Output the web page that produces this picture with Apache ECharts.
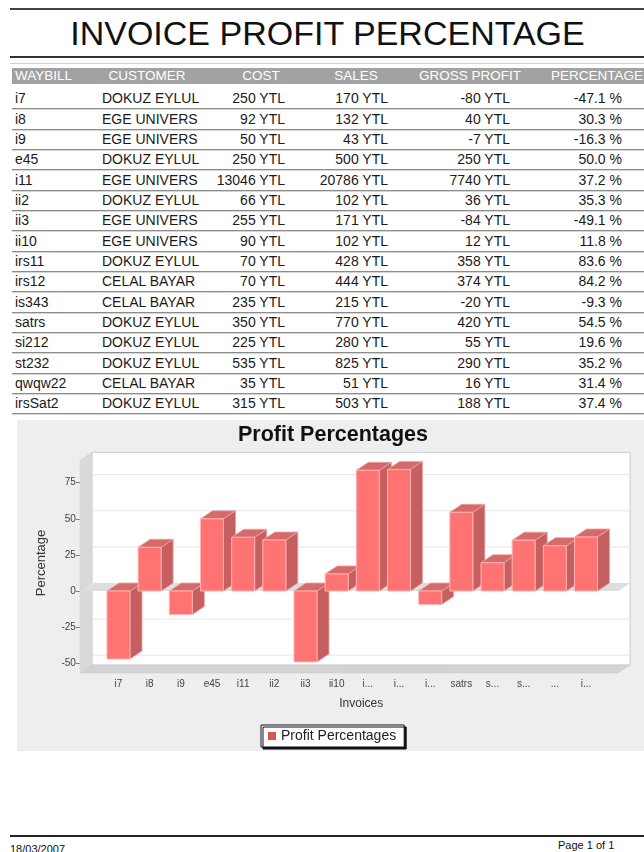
<!DOCTYPE html>
<html>
<head>
<meta charset="utf-8">
<script src="https://cdn.jsdelivr.net/npm/echarts@6/dist/echarts.min.js"></script>
<style>
  html, body { margin: 0; padding: 0; }
  body { width: 644px; height: 852px; overflow: hidden; background: #fff; position: relative;
         font-family: "Liberation Sans", Arial, sans-serif; }
  .abs { position: absolute; white-space: nowrap; }
</style>
</head>
<body>
<div id="page"></div>
<div id="chart" style="position:absolute;left:0;top:418px;width:644px;height:340px;"></div>
<script>
// ---------------- data ----------------
const REPORT_TITLE = 'INVOICE PROFIT PERCENTAGE';
const CHART_TITLE = 'Profit Percentages';
const SERIES_NAME = 'Profit Percentages';
const X_NAME = 'Invoices';
const Y_NAME = 'Percentage';
const headers = ['WAYBILL', 'CUSTOMER', 'COST', 'SALES', 'GROSS PROFIT', 'PERCENTAGE'];
const waybills = ['i7','i8','i9','e45','i11','ii2','ii3','ii10','irs11','irs12','is343','satrs','si212','st232','qwqw22','irsSat2'];
const customers = ['DOKUZ EYLUL','EGE UNIVERS','EGE UNIVERS','DOKUZ EYLUL','EGE UNIVERS','DOKUZ EYLUL','EGE UNIVERS','EGE UNIVERS','DOKUZ EYLUL','CELAL BAYAR','CELAL BAYAR','DOKUZ EYLUL','DOKUZ EYLUL','DOKUZ EYLUL','CELAL BAYAR','DOKUZ EYLUL'];
const cost = [250, 92, 50, 250, 13046, 66, 255, 90, 70, 70, 235, 350, 225, 535, 35, 315];
const sales = [170, 132, 43, 500, 20786, 102, 171, 102, 428, 444, 215, 770, 280, 825, 51, 503];
const grossProfit = [-80, 40, -7, 250, 7740, 36, -84, 12, 358, 374, -20, 420, 55, 290, 16, 188];
const percentage = [-47.1, 30.3, -16.3, 50.0, 37.2, 35.3, -49.1, 11.8, 83.6, 84.2, -9.3, 54.5, 19.6, 35.2, 31.4, 37.4];
const tickLabels = ['i7','i8','i9','e45','i11','ii2','ii3','ii10','i...','i...','i...','satrs','s...','s...','...','i...'];
const yTicks = { min: -50, max: 75, interval: 25 };
const axisRange = { top: 90.5, bottom: -56.8 };   // extent of the 3D plot box
const FOOTER_DATE = '18/03/2007';
const FOOTER_PAGE = 'Page 1 of 1';

// ---------------- report (header, table, footer) ----------------
const page = document.getElementById('page');
function el(text, css) {
  const d = document.createElement('div');
  d.className = 'abs';
  d.style.cssText = css;
  d.textContent = text;
  page.appendChild(d);
  return d;
}
el('', 'left:10px;top:8px;width:634px;height:2px;background:#444;');
el(REPORT_TITLE, 'left:0;width:655px;text-align:center;top:14px;font-size:34px;line-height:38px;color:#111;');
el('', 'left:10px;top:56px;width:634px;height:2px;background:#333;');
el('', 'left:10px;top:63px;width:634px;height:1px;background:#cfcfcf;');

// header bar
el('', 'left:12px;top:68px;width:632px;height:16px;background:#a2a2a2;');
const HDR = 'top:68px;font-size:13.5px;line-height:16px;color:#fff;';
el(headers[0], HDR + 'left:15px;');
const hdrCenters = [null, 147, 261, 356, 470, 597];
for (let k = 1; k < headers.length; k++) {
  el(headers[k], HDR + 'left:' + (hdrCenters[k] - 60) + 'px;width:120px;text-align:center;');
}

const ROW0 = 98.3, ROWH = 20.33;
const CELL = 'font-size:14px;line-height:20px;color:#1a1a1a;';
waybills.forEach((w, i) => {
  const cy = ROW0 + i * ROWH;
  const top = 'top:' + (cy - 10).toFixed(1) + 'px;';
  el(w, CELL + top + 'left:15px;');
  el(customers[i], CELL + top + 'left:102px;');
  el(cost[i] + ' YTL', CELL + top + 'right:' + (644 - 285) + 'px;text-align:right;');
  el(sales[i] + ' YTL', CELL + top + 'right:' + (644 - 388) + 'px;text-align:right;');
  el(grossProfit[i] + ' YTL', CELL + top + 'right:' + (644 - 510) + 'px;text-align:right;');
  el(percentage[i].toFixed(1) + ' %', CELL + top + 'right:' + (644 - 622) + 'px;text-align:right;');
  el('', 'left:12px;width:632px;height:1px;background:#8c8c8c;top:' + (cy + 10).toFixed(1) + 'px;');
  el('', 'left:12px;width:632px;height:1px;background:#d6d6d6;top:' + (cy + 11).toFixed(1) + 'px;');
});

// footer
el('', 'left:10px;top:835px;width:634px;height:2px;background:#222;');
el(FOOTER_DATE, 'left:10px;top:843px;font-size:11px;line-height:13px;color:#111;');
el(FOOTER_PAGE, 'left:558px;top:839px;font-size:11px;line-height:13px;color:#111;');

// ---------------- chart ----------------
const DX = 12, DY = 8, BAR_W = 23;
const FRAME_L_BANDS = 1.235, FRAME_R_BANDS = 1.03;

function renderFrame(params, api) {
  const band = api.size([1, 0])[0];
  const n = waybills.length;
  const xL = api.coord([0, 0])[0] - FRAME_L_BANDS * band;
  const xR = api.coord([n - 1, 0])[0] + FRAME_R_BANDS * band;
  const yT = api.coord([0, axisRange.top])[1];
  const yB = api.coord([0, axisRange.bottom])[1];
  const y0 = api.coord([0, 0])[1];
  const children = [];
  children.push({ type: 'rect', shape: { x: xL + DX, y: yT - DY, width: xR - xL, height: yB - yT },
    style: { fill: '#ffffff', stroke: '#cccccc', lineWidth: 1 } });
  for (let v = yTicks.min; v <= yTicks.max; v += yTicks.interval) {
    if (v === 0) continue;
    const y = api.coord([0, v])[1] - DY;
    children.push({ type: 'line', shape: { x1: xL + DX, y1: y, x2: xR + DX, y2: y },
      style: { stroke: '#e6e6e6', lineWidth: 1 } });
  }
  children.push({ type: 'polygon', shape: { points: [[xL, yT], [xL + DX, yT - DY], [xL + DX, yB - DY], [xL, yB]] },
    style: { fill: '#d9d9d9', stroke: '#cfcfcf', lineWidth: 0.5 } });
  children.push({ type: 'polygon', shape: { points: [[xL, yB], [xL + DX, yB - DY], [xR + DX, yB - DY], [xR, yB]] },
    style: { fill: '#d3d3d3', stroke: '#c8c8c8', lineWidth: 0.5 } });
  children.push({ type: 'polygon', shape: { points: [[xL, y0], [xL + DX, y0 - DY], [xR + DX, y0 - DY], [xR, y0]] },
    style: { fill: '#dedede' } });
  return { type: 'group', children: children };
}

function renderBar(params, api) {
  const idx = api.value(0), v = api.value(1);
  const p0 = api.coord([idx, 0]);
  const p1 = api.coord([idx, v]);
  const x0 = p0[0] - BAR_W / 2, x1 = p0[0] + BAR_W / 2;
  const yTop = Math.min(p0[1], p1[1]), yBot = Math.max(p0[1], p1[1]);
  return {
    type: 'group',
    children: [
      { type: 'polygon', shape: { points: [[x1, yTop], [x1 + DX, yTop - DY], [x1 + DX, yBot - DY], [x1, yBot]] },
        style: { fill: '#c66060', stroke: '#e8a0a0', lineWidth: 0.8 } },
      { type: 'polygon', shape: { points: [[x0, yTop], [x0 + DX, yTop - DY], [x1 + DX, yTop - DY], [x1, yTop]] },
        style: { fill: '#d66a6a', stroke: '#eba5a5', lineWidth: 0.8 } },
      { type: 'rect', shape: { x: x0, y: yTop, width: BAR_W, height: yBot - yTop },
        style: { fill: '#ff7373', stroke: '#ffb4b4', lineWidth: 1 } }
    ]
  };
}

const chart = echarts.init(document.getElementById('chart'), null, { renderer: 'canvas' });
chart.setOption({
  animation: false,
  textStyle: { fontFamily: '"Liberation Sans", Arial, sans-serif' },
  graphic: [{ type: 'rect', silent: true, z: -100,
    shape: { x: 17, y: 2, width: 627, height: 331 }, style: { fill: '#eeeeee' } }],
  title: {
    text: CHART_TITLE, left: 333, top: 6, textAlign: 'center', padding: 0,
    textStyle: { fontSize: 21.5, fontWeight: 'bold', color: '#111' }
  },
  legend: {
    left: 261, top: 307,
    data: [{ name: SERIES_NAME, itemStyle: { color: '#e05252' } }],
    icon: 'rect', itemWidth: 8, itemHeight: 8,
    backgroundColor: '#ffffff', borderColor: '#111', borderWidth: 1,
    padding: [4, 8, 4, 7],
    shadowColor: '#111', shadowOffsetX: 2, shadowOffsetY: 2, shadowBlur: 0,
    textStyle: { fontSize: 14, color: '#222' }
  },
  grid: { left: 102.9, right: 42.4, top: 64.7, height: 180.5 },
  xAxis: {
    type: 'category', data: waybills,
    axisLine: { show: false }, axisTick: { show: false },
    axisLabel: { interval: 0, margin: 16, fontSize: 10, color: '#444',
      formatter: (v, i) => tickLabels[i] },
    name: X_NAME, nameLocation: 'middle', nameGap: 34,
    nameTextStyle: { fontSize: 12, color: '#333', padding: [0, 0, 0, 18] }
  },
  yAxis: {
    type: 'value', min: yTicks.min, max: yTicks.max, interval: yTicks.interval, offset: 23,
    axisLine: { show: false },
    axisTick: { show: true, length: 4, lineStyle: { color: '#777' } },
    axisLabel: { fontSize: 10, color: '#444', margin: 4 },
    splitLine: { show: false },
    name: Y_NAME, nameLocation: 'middle', nameGap: 32,
    nameTextStyle: { fontSize: 13, color: '#333', padding: [0, 0, 0, 20] }
  },
  series: [
    { type: 'custom', name: '__frame', silent: true, z: 1, clip: false,
      renderItem: renderFrame, data: [[0, 0]], encode: { x: 0, y: 1 } },
    { type: 'custom', name: SERIES_NAME, z: 2, clip: false,
      itemStyle: { color: '#e05252' },
      renderItem: renderBar, data: percentage.map((v, i) => [i, v]), encode: { x: 0, y: 1 } }
  ]
});
</script>
</body>
</html>
